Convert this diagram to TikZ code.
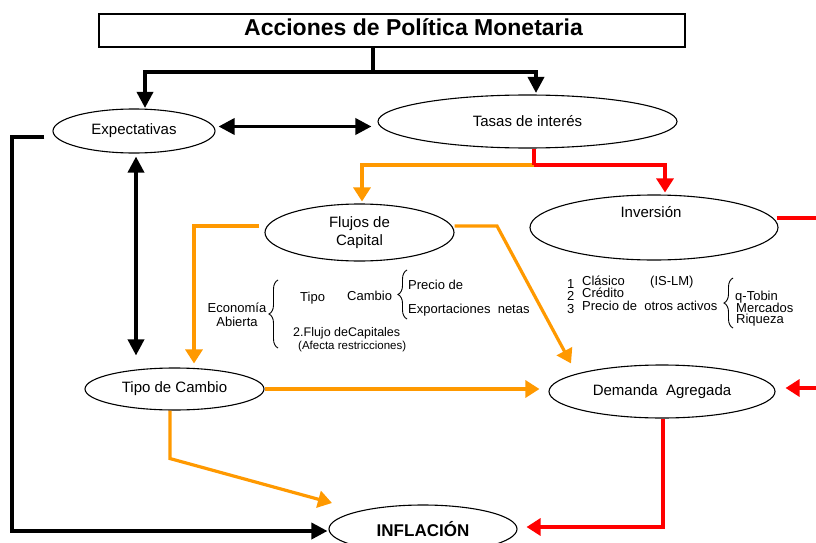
\documentclass[tikz,border=0pt]{standalone}
\usepackage{fontspec}
\setmainfont{Liberation Sans}
\usetikzlibrary{arrows.meta,shapes.geometric,calc,decorations.pathreplacing}
\definecolor{orng}{HTML}{FF9900}
\definecolor{rd}{HTML}{FF0000}
\begin{document}
\begin{tikzpicture}[x=1pt,y=-1pt,
  ell/.style={draw,ellipse,line width=1.1pt,inner sep=0pt,font=\fontsize{15}{18}\selectfont},
  lbl/.style={inner sep=0pt,font=\fontsize{15}{18}\selectfont},
  ann/.style={inner sep=0pt,anchor=base west,font=\fontsize{13}{14}\selectfont},
  blk/.style={line width=3.5pt,black},
  blkar/.style={blk,-{Triangle[length=16pt,width=16pt]}},
  blkdbl/.style={blk,{Triangle[length=16pt,width=16pt]}-{Triangle[length=16pt,width=16pt]}},
  org/.style={line width=3.2pt,orng},
  orgar/.style={org,-{Triangle[length=14pt,width=17pt]}},
  rdl/.style={line width=3.2pt,rd},
  rdar/.style={rdl,-{Triangle[length=14pt,width=17pt]}},
  brc/.style={line width=0.9pt,decorate,decoration={brace,amplitude=9pt}}
]
\useasboundingbox (0,0) rectangle (816,543);

% title
\node[draw,line width=1.2pt,minimum width=586pt,minimum height=33pt,inner sep=0pt] (title) at (392,30.5) {};
\node[inner sep=0pt,anchor=base,font=\bfseries\fontsize{23}{27}\selectfont] (titletext) at (413.5,36) {Acciones de Política Monetaria};

% ellipses
\node[ell,minimum width=162pt,minimum height=44pt] (exp) at (134,131) {Expectativas};
\node[ell,minimum width=299pt,minimum height=53pt] (tasas) at (527.5,121.5) {Tasas de interés};
\node[ell,minimum width=189pt,minimum height=57pt,align=center] (flujos) at (359.5,232.5) {Flujos de\\Capital};
\node[ell,minimum width=248pt,minimum height=65pt] (inv) at (654,227.5) {};
\node[lbl] (invtext) at (651,212) {Inversión};
\node[ell,minimum width=179pt,minimum height=42pt] (tipo) at (174.5,389) {Tipo de Cambio};
\node[ell,minimum width=226pt,minimum height=53pt] (dem) at (662,391.5) {Demanda\ \ Agregada};
\node[ell,minimum width=188pt,minimum height=48pt,font=\bfseries\fontsize{17}{20}\selectfont] (inf) at (423,529) {INFLACIÓN};

% helper coordinates
\coordinate (j) at (373,72);
\coordinate (k) at (534,165);
\coordinate (fr) at (497,226);
\coordinate (bl) at (12,531);
\coordinate (redin) at (816,388);
\coordinate (redout) at (816,218);
\coordinate (demin) at ($(dem.west)+(-9,0)$);

% black connectors
\draw[blk] (title.south -| j) -- (j);
\draw[blkar] (j) -| ($(exp.north)+(11,-0.5)$);
\draw[blkar] (j) -| ($(tasas.north)+(8.5,-1.5)$);
\draw[blkdbl] ($(exp.east)+(3,-4.5)$) -- ($(tasas.west)+(-6,5)$);
\draw[blkdbl] ($(exp.south)+(2,3)$) -- ($(tipo.north)+(-38.5,-12)$);
\draw[blkar] ($(exp.west)+(-8,6)$) -| (bl) -- ($(inf.west)+(-1,2)$);

% orange / red from tasas
\draw[orgar] (k) -| ($(flujos.north)+(2.5,-2)$);
\draw[rdl] (tasas.south -| k) -- (k);
\draw[rdar] (k) -| ($(inv.north)+(11,-2)$);

% orange from flujos
\draw[orgar] ($(flujos.west)+(-5,-6.5)$) -| ($(tipo.north)+(19.5,-4)$);
\draw[orgar] ($(flujos.east)+(0,-6.5)$) -- (fr) -- ($(dem.north)+(-91,-1)$);

% orange from tipo
\draw[orgar] (tipo.east) -- (tipo.east -| demin);
\draw[orgar] ($(tipo.south)+(-4.5,0)$) -- ++(0,48) -- ($(inf.center)+(-91,-26)$);

% red
\draw[rdl] ($(inv.east)+(-2,-9.5)$) -- (redout);
\draw[rdar] (redin) -- ($(dem.east)+(10,-3.5)$);
\draw[rdar] ($(dem.south)+(1,0)$) |- ($(inf.east)+(9,-2)$);

% left annotation block
\node[inner sep=0pt,align=center,font=\fontsize{13}{14}\selectfont] (eco) at (237,315) {Economía\\Abierta};
\draw[brc] (278,348) -- (278,280);
\node[ann] (tipow) at (300,301) {Tipo};
\node[ann] (cambiow) at (347,300) {Cambio};
\draw[brc] (407,319) -- (407,270);
\node[ann] (precio) at (408,289) {Precio de};
\node[ann] (export) at (408,313) {Exportaciones\ \ netas};
\node[ann,font=\fontsize{12.5}{13}\selectfont] (flujo2) at (293,336.5) {2.Flujo deCapitales};
\node[ann,font=\fontsize{11.5}{12}\selectfont] (afecta) at (298,349) {(Afecta restricciones)};

% right annotation block
\node[ann] (n1) at (567,288) {1};
\node[ann] (n2) at (567,300.5) {2};
\node[ann] (n3) at (567,313) {3};
\node[ann] (clas) at (582,285) {Clásico};
\node[ann] (islm) at (650,285) {(IS-LM)};
\node[ann] (cred) at (582,297.5) {Crédito};
\node[ann] (otros) at (582,310) {Precio de\ \ otros activos};
\draw[brc] (733,328) -- (733,278);
\node[ann] (qt) at (735,300) {q-Tobin};
\node[ann] (merc) at (736,312) {Mercados};
\node[ann] (riq) at (736,323.5) {Riqueza};
\end{tikzpicture}
\end{document}
